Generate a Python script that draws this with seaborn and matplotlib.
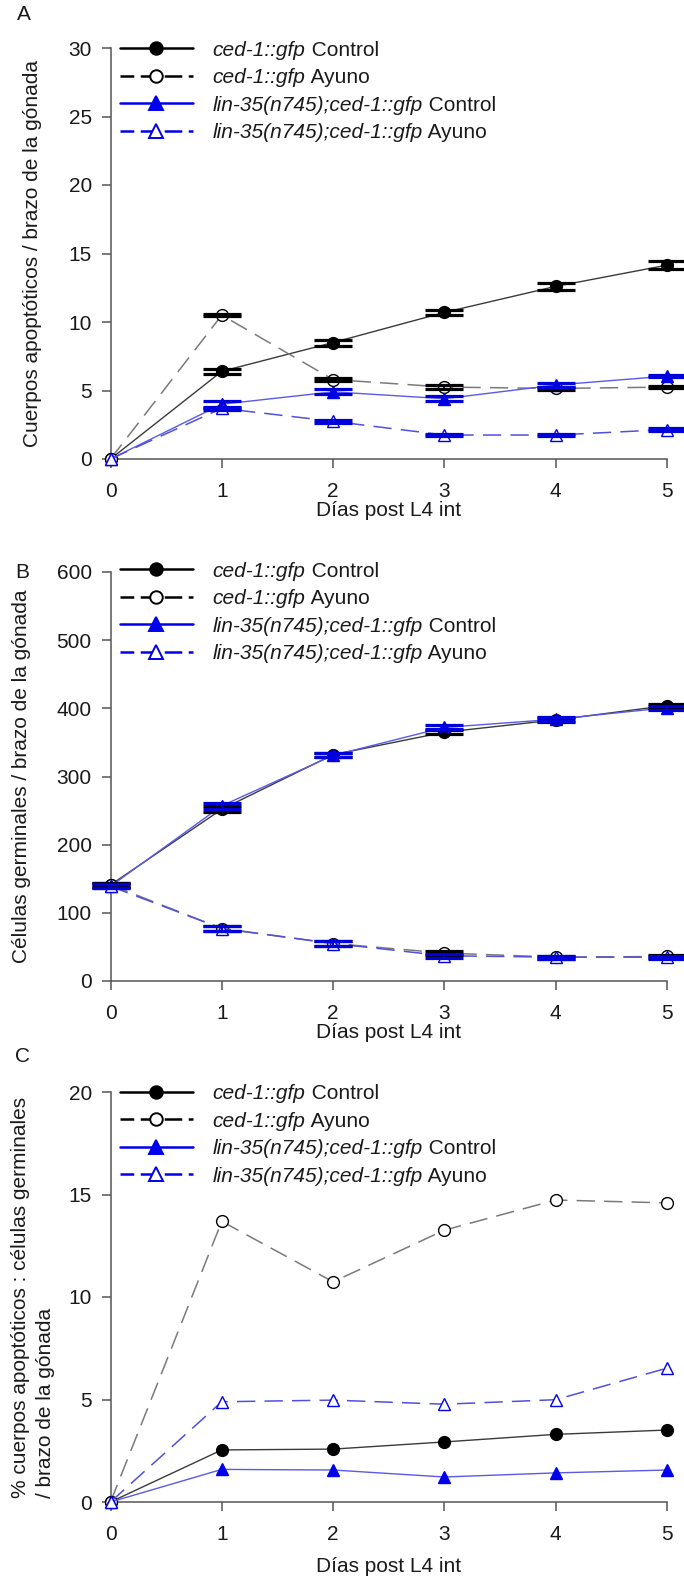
import numpy as np
import pandas as pd
import matplotlib
matplotlib.use("Agg")
import matplotlib.pyplot as plt
from matplotlib.lines import Line2D
import seaborn as sns

# ---------------- data ----------------
days = [0, 1, 2, 3, 4, 5]
gene_labels = ["ced-1::gfp", "ced-1::gfp",
               "lin-35(n745);ced-1::gfp", "lin-35(n745);ced-1::gfp"]
cond_labels = ["Control", "Ayuno", "Control", "Ayuno"]

# Panel A: apoptotic corpses per gonad arm
a_ced_control = [0, 6.4, 8.5, 10.7, 12.6, 14.15]
a_ced_ayuno = [0, 10.5, 5.8, 5.25, 5.15, 5.25]
a_lin_control = [0, 4.0, 4.9, 4.4, 5.4, 6.05]
a_lin_ayuno = [0, 3.7, 2.75, 1.75, 1.75, 2.15]
a_sem_ced_control = [np.nan, 0.2, 0.22, 0.2, 0.25, 0.28]
a_sem_ced_ayuno = [np.nan, 0.06, 0.1, 0.12, 0.1, 0.06]
a_sem_lin_control = [np.nan, 0.25, 0.18, 0.2, 0.15, 0.1]
a_sem_lin_ayuno = [np.nan, 0.1, 0.1, 0.08, 0.08, 0.1]

# Panel B: germ cells per gonad arm
b_ced_control = [141, 252, 332, 365, 383, 404]
b_ced_ayuno = [141, 77, 55, 41, 35, 36]
b_lin_control = [139, 257, 331, 372, 384, 401]
b_lin_ayuno = [139, 77, 55, 37, 35, 35]
b_sem_ced_control = [3, 4, 3, 3, 3, 3]
b_sem_ced_ayuno = [3, 3, 3, 3, 2, 2]
b_sem_lin_control = [3, 4, 3, 3, 3, 3]
b_sem_lin_ayuno = [3, 3, 3, 3, 2, 2]

# Panel C: % apoptotic corpses : germ cells
c_ced_control = [0, 2.54, 2.58, 2.93, 3.3, 3.51]
c_ced_ayuno = [0, 13.69, 10.74, 13.26, 14.73, 14.59]
c_lin_control = [0, 1.59, 1.56, 1.22, 1.42, 1.56]
c_lin_ayuno = [0, 4.89, 4.97, 4.77, 4.99, 6.53]

a_yticks = [0, 5, 10, 15, 20, 25, 30]
b_yticks = [0, 100, 200, 300, 400, 500, 600]
c_yticks = [0, 5, 10, 15, 20]
xlabel_text = "Días post L4 int"
a_ylabel = "Cuerpos apoptóticos / brazo de la gónada"
b_ylabel = "Células germinales / brazo de la gónada"
c_ylabel = "% cuerpos apoptóticos : células germinales\n/ brazo de la gónada"

# ---------------- style ----------------
sns.set_style("ticks")
plt.rcParams["font.family"] = ["Liberation Sans", "DejaVu Sans"]
FS = 15
TXT = "#1a1a1a"
AX_COL = "#555555"
BLUE = "#0000ee"
DASH = (0, (12, 6))
LEG_DASH = (1.5, (7.0, 2.6))
styles = [
    dict(line="#3a3a3a", lw=1.0, ls="-", lls="-", marker="o", mfc="black", mec="black", ms=8.5, cap="black", leg="black"),
    dict(line="#7a7a7a", lw=1.1, ls=DASH, lls=LEG_DASH, marker="o", mfc="white", mec="black", ms=8.5, cap="black", leg="black"),
    dict(line="#5a5ae8", lw=1.0, ls="-", lls="-", marker="^", mfc=BLUE, mec=BLUE, ms=9, cap="#0000dd", leg=BLUE),
    dict(line="#5050dd", lw=1.1, ls=DASH, lls=LEG_DASH, marker="^", mfc="white", mec=BLUE, ms=9, cap="#0000dd", leg=BLUE),
]

W, H = 684, 1579
fig = plt.figure(figsize=(W / 100, H / 100), dpi=100)

XMAX = 5.153
left = 110.5 / W
width = 1 - left


def make_axes(y_top_px, y_bot_px):
    return fig.add_axes([left, (H - y_bot_px) / H, width, (y_bot_px - y_top_px) / H])


def draw_panel(ax, values, sems, yticks, ylabel, ylab_x, xlab_y, leg_top_px):
    for i in range(4):
        st = styles[i]
        df = pd.DataFrame({"day": days, "value": values[i]})
        sns.lineplot(data=df, x="day", y="value", ax=ax, errorbar=None,
                     color=st["line"], lw=st["lw"], linestyle=st["ls"],
                     marker=st["marker"], markersize=st["ms"],
                     markerfacecolor=st["mfc"], markeredgecolor=st["mec"],
                     markeredgewidth=1.0, clip_on=False, zorder=3 + i)
    if sems is not None:
        for i in range(4):
            st = styles[i]
            ax.errorbar(days, values[i], yerr=sems[i], fmt="none",
                        ecolor=st["cap"], elinewidth=1.3, capsize=13.7,
                        capthick=2.3, clip_on=False, zorder=8)
    ax.set_xlim(0, XMAX)
    ax.set_ylim(yticks[0], yticks[-1])
    ax.set_xticks(days)
    ax.set_yticks(yticks)
    ax.spines["top"].set_visible(False)
    ax.spines["right"].set_visible(False)
    for s in ("left", "bottom"):
        ax.spines[s].set_color(AX_COL)
        ax.spines[s].set_linewidth(1.1)
    ax.spines["bottom"].set_bounds(0, 5)
    ax.spines["left"].set_bounds(yticks[0], yticks[-1])
    ax.tick_params(axis="both", direction="out", length=6.5, width=1.1,
                   color=AX_COL, labelsize=FS, labelcolor=TXT)
    ax.tick_params(axis="x", pad=10)
    ax.tick_params(axis="y", pad=7)
    ax.set_xlabel(xlabel_text, fontsize=FS, color=TXT, va="center")
    ax.xaxis.set_label_coords(2.5 / XMAX, xlab_y)
    ax.set_ylabel(ylabel, fontsize=FS, color=TXT, va="center",
                  ha="center", multialignment="left", linespacing=1.45)
    ax.yaxis.set_label_coords(ylab_x, 0.5)

    handles = [Line2D([], [], color=st["leg"], lw=1.8, linestyle=st["lls"],
                      marker=st["marker"], markersize=st["ms"] + 0.5,
                      markerfacecolor=st["mfc"], markeredgecolor=st["mec"],
                      markeredgewidth=1.4)
               for st in styles]
    leg = ax.legend(handles, gene_labels, loc="upper left",
                    bbox_to_anchor=(120 / W, (H - leg_top_px) / H),
                    bbox_transform=fig.transFigure, frameon=False,
                    prop=dict(style="italic", size=FS),
                    handlelength=3.5, handletextpad=0.95, labelspacing=0.41,
                    borderpad=0, borderaxespad=0)
    leg.set_zorder(20)
    for t, cond in zip(leg.get_texts(), cond_labels):
        t.set_color(TXT)
        an = ax.annotate(" " + cond, xy=(1, 0), xycoords=t, va="bottom",
                         ha="left", fontsize=FS, color=TXT,
                         annotation_clip=False)
        an.set_zorder(30)


axA = make_axes(48, 459)
axB = make_axes(572, 981)
axC = make_axes(1092, 1502)

draw_panel(axA, [a_ced_control, a_ced_ayuno, a_lin_control, a_lin_ayuno],
           [a_sem_ced_control, a_sem_ced_ayuno, a_sem_lin_control, a_sem_lin_ayuno],
           a_yticks, a_ylabel, (33 - 110.5) / 573.5, -52 / 411, 48 - 7.5)
draw_panel(axB, [b_ced_control, b_ced_ayuno, b_lin_control, b_lin_ayuno],
           [b_sem_ced_control, b_sem_ced_ayuno, b_sem_lin_control, b_sem_lin_ayuno],
           b_yticks, b_ylabel, (21.5 - 110.5) / 573.5, -52 / 409, 569 - 7.5)
draw_panel(axC, [c_ced_control, c_ced_ayuno, c_lin_control, c_lin_ayuno],
           None, c_yticks, c_ylabel, (33 - 110.5) / 573.5, -65 / 410, 1091.5 - 7.5)

for lab, (px, py) in zip(["A", "B", "C"], [(24, 15), (22, 573), (23, 1056)]):
    fig.text(px / W, 1 - py / H, lab, fontsize=FS, ha="center", va="center",
             color=TXT)

fig.savefig("out.png", dpi=100)
